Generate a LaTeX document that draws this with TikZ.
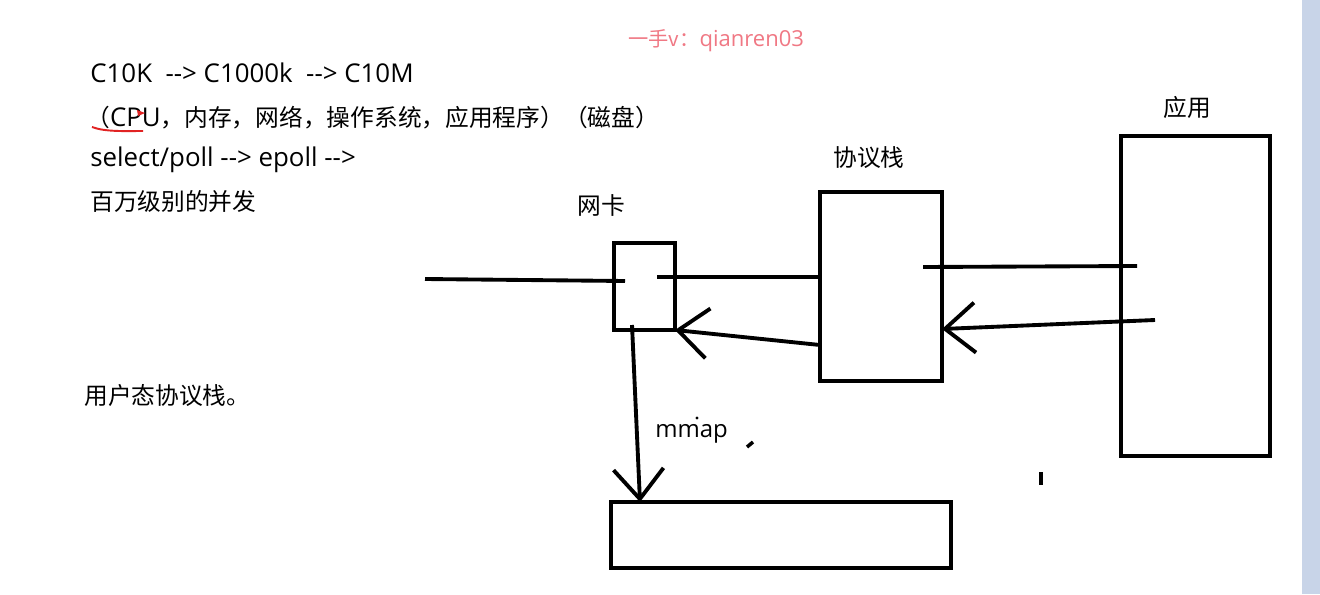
\documentclass[tikz,border=0pt]{standalone}
\usepackage{fontspec}
\setmainfont{Noto Sans CJK SC}
\newfontfamily\lat{Open Sans}[Ligatures=TeXOff,Scale=1.09]
\usetikzlibrary{arrows.meta,positioning}
\definecolor{mark}{RGB}{240,120,132}
\definecolor{pen}{RGB}{225,35,35}
\definecolor{bar}{RGB}{200,212,232}

\begin{document}
\begin{tikzpicture}[x=0.2mm,y=-0.2mm,>={Straight Barb[length=6mm,width=10mm]},
	txt/.style={font=\fontsize{13.5}{16}\selectfont,anchor=base west,inner sep=0pt},
	box/.style={draw,line width=2.4pt,inner sep=0pt,outer sep=0pt},
	wire/.style={line width=2.2pt}]
	%Sfondo
	\fill[white] (0,0) rectangle (1320,594);
	\fill[bar] (1302,0) rectangle (1320,594);
	\useasboundingbox (0,0) rectangle (1320,594);
	%Note
	\node[txt,text=mark,font=\fontsize{11.5}{14}\selectfont] (wm) at (628,47) {一手v：{\lat qianren03}};
	\node[txt] (l1) at (90,83) {\lat C10K\ \ --> C1000k\ \ --> C10M};
	\node[txt] (l2) at (86,126) {（{\lat CPU}，内存，网络，操作系统，应用程序）（磁盘）};
	\node[txt] (l3) at (90,166) {\lat select/poll --> epoll -->};
	\node[txt] (l4) at (90,210) {百万级别的并发};
	\node[txt] (l5) at (84,404) {用户态协议栈。};
	\draw[pen,line width=1.1pt] (92,127) .. controls (105,132) and (125,131) .. (143,131);
	\fill[pen] (137,110) -- (145,113) -- (138,116) -- cycle;
	%Scatole
	\node[box,minimum width=12.2mm,minimum height=17.4mm] (nic) at (644.5,286.5) {};
	\node[box,minimum width=24.4mm,minimum height=37.8mm] (proto) at (881,286.5) {};
	\node[box,minimum width=29.8mm,minimum height=64mm] (app) at (1195.5,296) {};
	\node[box,minimum width=68mm,minimum height=13.2mm] (mem) at (781,535) {};
	%Etichette
	\node[txt,anchor=base] (nicl) at (601,214) {网卡};
	\node[txt,anchor=base] (protol) at (869,166) {协议栈};
	\node[txt,anchor=base] (appl) at (1187,117) {应用};
	\node[txt,font=\fontsize{12.5}{15}\selectfont] (mmapl) at (655,437) {\lat mmap};
	%Collegamenti
	\coordinate (wire) at (425,279);
	\coordinate (nica) at (625,281);
	\coordinate (nicb) at (657,277);
	\coordinate (nicc) at (632,325);
	\coordinate (protoa) at (923,267);
	\coordinate (appa) at (1137,266);
	\coordinate (appb) at (1155,320);
	\draw[wire] (wire) -- (nica);
	\draw[wire] (nicb) -- (nicb -| proto.west);
	\draw[wire,->] ([yshift=-11.7mm]proto.west) -- (nic.south east);
	\draw[wire] (protoa) -- (appa);
	\draw[wire,->] (appb) -- ([yshift=-8.5mm]proto.east);
	\draw[wire,->] (nicc) -- ([xshift=-28.2mm]mem.north);
	%Segni
	\fill (697,418) circle (1.6);
	\draw[line width=2pt] (747,447) -- (753,442);
	\draw[line width=2pt] (1041,472) -- (1041,485);
\end{tikzpicture}
\end{document}
